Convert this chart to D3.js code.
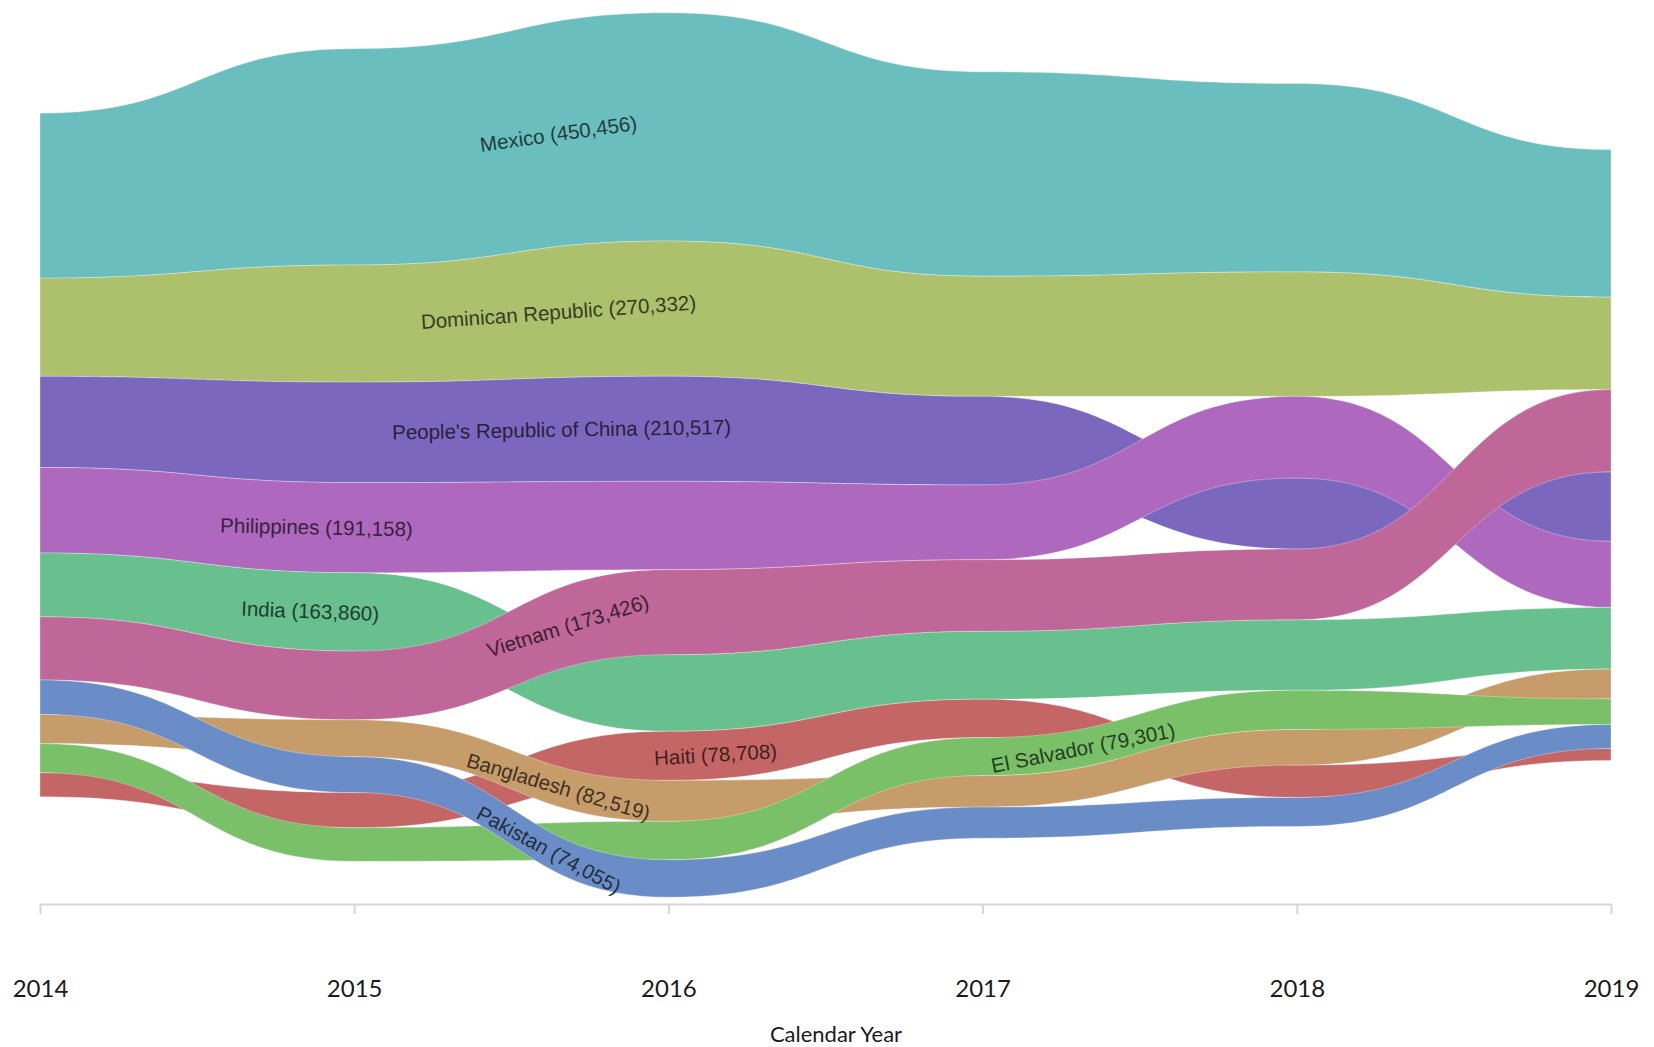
<!DOCTYPE html>
<meta charset="utf-8">
<script src="https://d3js.org/d3.v7.min.js"></script>
<style>
body { margin: 0; background: #fff; }
.band-label { font-family: "Liberation Sans", Arial, sans-serif; font-size: 20.5px; }
.x-axis text { font-family: Lato, sans-serif; font-size: 24px; fill: #1a1a1a; }
.x-axis path, .x-axis line { stroke: #d6d6d6; stroke-width: 2px; }
.axis-title { font-family: Lato, sans-serif; font-size: 22px; fill: #1a1a1a; }
</style>
<body></body>
<script>
var years = [2014, 2015, 2016, 2017, 2018, 2019];

// yearly values
var mexico      = [64800, 85000, 89700, 80300, 74000, 58000];
var dominican   = [38600, 46000, 53100, 47200, 48900, 36300];
var china       = [35800, 39500, 41300, 34800, 27900, 27300];
var philippines = [33600, 35400, 34700, 29400, 32100, 26000];
var india       = [25100, 30800, 30100, 26700, 27700, 24200];
var vietnam     = [24800, 27000, 33400, 28100, 27800, 32300];
var haiti       = [9500, 13800, 19300, 15100, 12700, 4700];
var bangladesh  = [11500, 14500, 16100, 12400, 14000, 11700];
var elSalvador  = [11400, 13200, 15100, 14900, 15400, 10100];
var pakistan    = [13500, 14100, 14700, 12200, 11400, 9400];

// drawing order (later ones lie on top where ribbons cross)
var countries = ["Mexico", "Dominican Republic", "People's Republic of China", "Philippines",
  "India", "Vietnam", "Haiti", "Bangladesh", "El Salvador", "Pakistan"];
var values = [mexico, dominican, china, philippines, india, vietnam, haiti, bangladesh, elSalvador, pakistan];
var totals = [450456, 270332, 210517, 191158, 163860, 173426, 78708, 82519, 79301, 74055];
var colors = ["#6abfbe", "#adc06b", "#7b68be", "#ae69bf", "#67c08e", "#bf6798",
  "#c56666", "#c69c6a", "#79c068", "#6a8dc7"];
// where along the ribbon each label sits (in years)
var labelAt = [2015.65, 2015.65, 2015.66, 2014.88, 2014.86, 2015.68, 2016.15, 2015.65, 2017.32, 2015.62];

var width = 1654, height = 1047, midY = 455;

var svg = d3.select("body").append("svg")
    .attr("width", width)
    .attr("height", height);

var x = d3.scaleLinear().domain([2014, 2019]).range([40, 1611]);
var h = d3.scaleLinear().domain([0, 100000]).range([0, 254.5]);

// each year: rank by value, stack largest on top, centred on midY
var layout = countries.map(function() { return []; });
years.forEach(function(yr, j) {
  var order = d3.range(countries.length)
      .sort(function(a, b) { return values[b][j] - values[a][j]; });
  var total = d3.sum(values, function(v) { return v[j]; });
  var y = midY - h(total) / 2;
  order.forEach(function(i) {
    var t = h(values[i][j]);
    layout[i].push({year: yr, y0: y, y1: y + t});
    y += t;
  });
});

var area = d3.area()
    .x(function(d) { return x(d.year); })
    .y0(function(d) { return d.y0; })
    .y1(function(d) { return d.y1; })
    .curve(d3.curveBumpX);

svg.append("g")
  .selectAll("path")
  .data(layout)
  .enter().append("path")
    .attr("d", area)
    .attr("fill", function(d, i) { return colors[i]; })
    .attr("stroke", "#fff")
    .attr("stroke-opacity", 0.5)
    .attr("stroke-width", 0.6);

// point on the middle of a ribbon (same bezier as curveBumpX) and its slope
function along(pts, yr) {
  var px = x(yr);
  var j = Math.min(pts.length - 2, Math.max(0, d3.bisectRight(years, yr) - 1));
  var a = pts[j], b = pts[j + 1];
  var xa = x(a.year), dx = x(b.year) - xa;
  var f = (px - xa) / dx;
  var lo = 0, hi = 1, t = 0.5;
  for (var k = 0; k < 40; k++) {
    t = (lo + hi) / 2;
    if (1.5 * t * (1 - t) + t * t * t < f) lo = t; else hi = t;
  }
  var ca = (a.y0 + a.y1) / 2, cb = (b.y0 + b.y1) / 2;
  var y = ca + (cb - ca) * (3 * t * t - 2 * t * t * t);
  var dydt = (cb - ca) * 6 * t * (1 - t);
  var dxdt = dx * (1.5 - 3 * t + 3 * t * t);
  return {x: px, y: y, angle: Math.atan2(dydt, dxdt) * 180 / Math.PI};
}

var fmt = d3.format(",");
svg.append("g")
  .selectAll("text")
  .data(countries)
  .enter().append("text")
    .attr("class", "band-label")
    .attr("transform", function(d, i) {
      var p = along(layout[i], labelAt[i]);
      return "translate(" + p.x + "," + p.y + ") rotate(" + p.angle + ")";
    })
    .attr("text-anchor", "middle")
    .attr("dy", "0.35em")
    .attr("fill", function(d, i) { return d3.color(colors[i]).darker(3.2); })
    .text(function(d, i) { return d + " (" + fmt(totals[i]) + ")"; });

var xAxis = d3.axisBottom(x)
    .tickValues(years)
    .tickFormat(d3.format("d"))
    .tickSize(10)
    .tickSizeOuter(0)
    .tickPadding(66);

svg.append("g")
    .attr("class", "x-axis")
    .attr("transform", "translate(0,904)")
    .call(xAxis);

svg.append("text")
    .attr("class", "axis-title")
    .attr("x", 836)
    .attr("y", 1042)
    .attr("text-anchor", "middle")
    .text("Calendar Year");
</script>
